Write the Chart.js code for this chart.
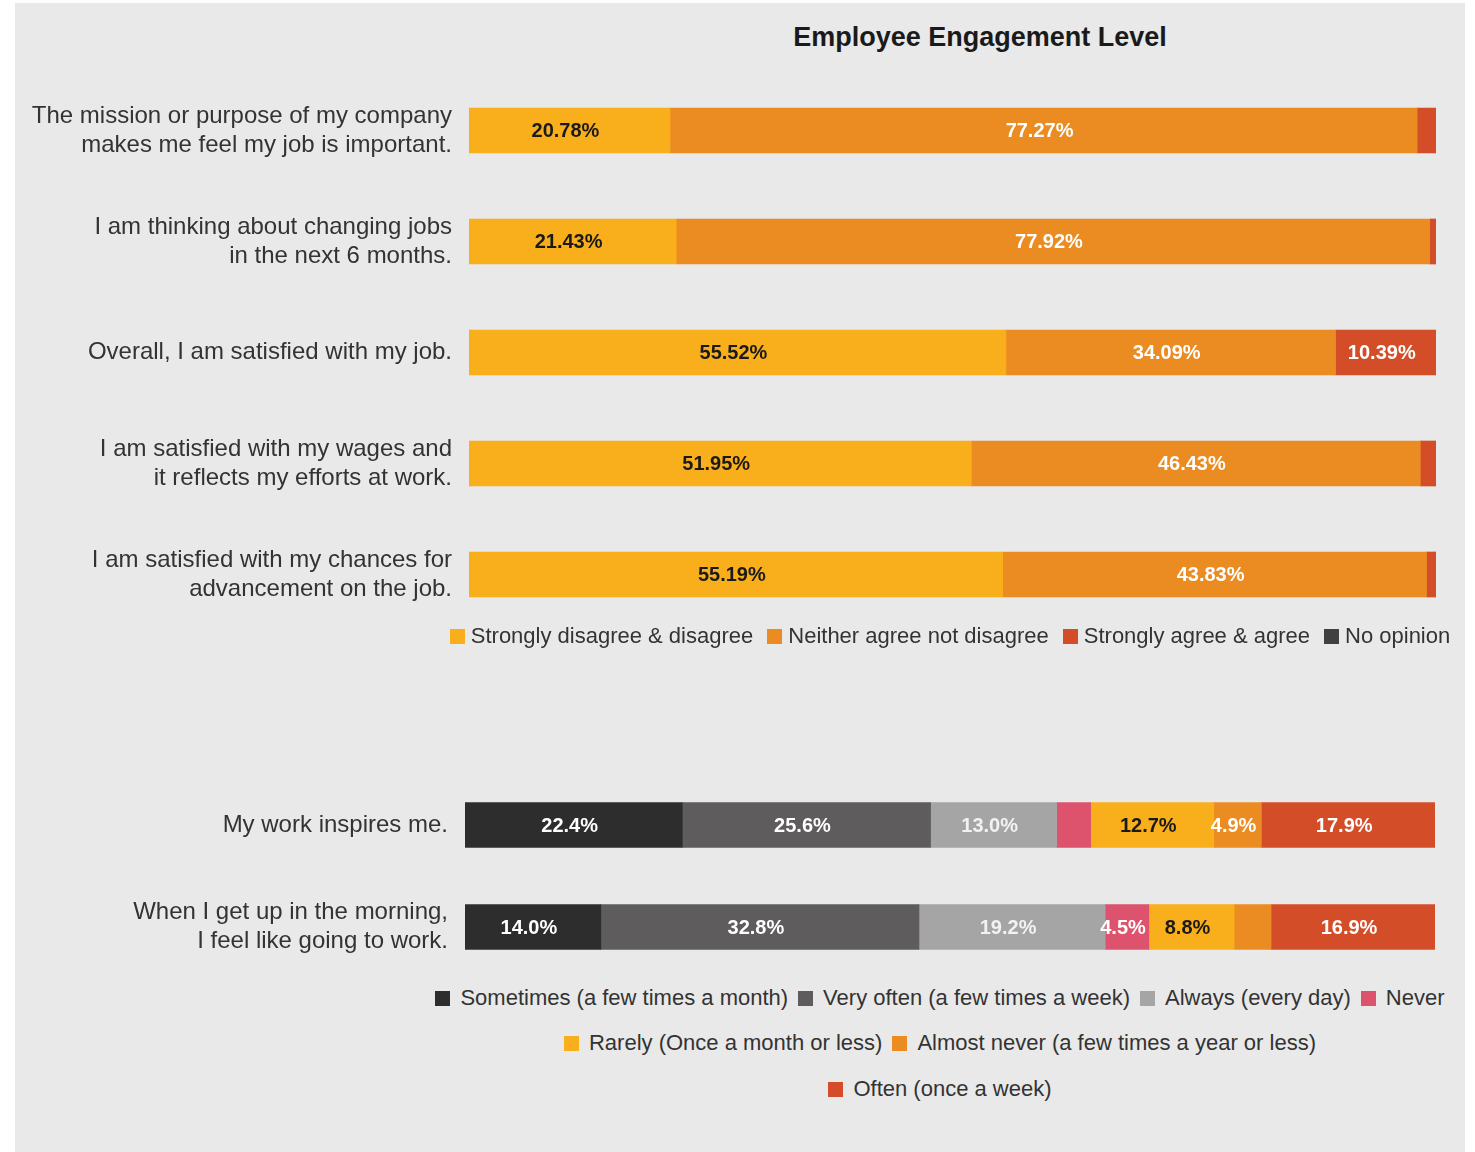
<!DOCTYPE html>
<html><head><meta charset="utf-8">
<script src="https://cdn.jsdelivr.net/npm/chart.js@4.4.1/dist/chart.umd.min.js"></script>
<style>
html,body{margin:0;padding:0;background:#fff;width:1475px;height:1152px;overflow:hidden;font-family:"Liberation Sans",Arial,sans-serif;}
#panel{position:absolute;left:15px;top:3px;width:1450px;height:1149px;background:#e9e9e9;}
#title{position:absolute;left:680px;width:600px;top:21px;text-align:center;font-weight:bold;font-size:27px;line-height:32px;color:#1a1a1a;}
.chartbox{position:absolute;left:15px;width:1450px;}
#topBox{top:75px;height:555px;}
#botBox{top:774px;height:204px;}
.legend{position:absolute;width:1030px;display:flex;justify-content:center;align-items:center;font-size:22px;line-height:28px;height:28px;color:#333;}
.legend .item{display:flex;align-items:center;white-space:nowrap}
.legend .box{width:15px;height:15px;flex:none}
#topLegend .legend{left:435px;}
#topLegend .item{margin:0 7px;}
#topLegend .box{margin-right:6px;}
#botLegend .legend{left:425px;}
#botLegend .item{margin:0 5px;}
#botLegend .box{margin-right:10px;}
</style></head>
<body>
<div id="panel"></div>
<div id="title">Employee Engagement Level</div>
<div class="chartbox" id="topBox"><canvas id="topChart"></canvas></div>
<div class="chartbox" id="botBox"><canvas id="botChart"></canvas></div>
<div id="topLegend"></div>
<div id="botLegend"></div>
<script>
// ---- Top chart data ----
const topCategories = [
  ["The mission or purpose of my company","makes me feel my job is important."],
  ["I am thinking about changing jobs","in the next 6 months."],
  "Overall, I am satisfied with my job.",
  ["I am satisfied with my wages and","it reflects my efforts at work."],
  ["I am satisfied with my chances for","advancement on the job."]
];
const topSeriesNames = ["Strongly disagree & disagree","Neither agree not disagree","Strongly agree & agree","No opinion"];
const stronglyDisagree = [20.78, 21.43, 55.52, 51.95, 55.19];
const neitherAgree     = [77.27, 77.92, 34.09, 46.43, 43.83];
const stronglyAgree    = [1.95, 0.65, 10.39, 1.62, 0.98];
const noOpinion        = [0, 0, 0, 0, 0];

// ---- Bottom chart data ----
const botCategories = ["My work inspires me.", ["When I get up in the morning,","I feel like going to work."]];
const botSeriesNames = ["Sometimes (a few times a month)","Very often (a few times a week)","Always (every day)","Never","Rarely (Once a month or less)","Almost never (a few times a year or less)","Often (once a week)"];
const sometimes   = [22.4, 14.0];
const veryOften   = [25.6, 32.8];
const always      = [13.0, 19.2];
const never       = [3.5, 4.5];
const rarely      = [12.7, 8.8];
const almostNever = [4.9, 3.8];
const often       = [17.9, 16.9];

// ---- Styles ----
const topColors = ["#F9AE1B","#EA8C22","#D34E28","#404040"];
const topLabelColors = ["#1a1a1a","#ffffff","#ffffff","#ffffff"];
const botColors = ["#2D2D2D","#5E5C5D","#A5A5A5","#DD526C","#F9AE1B","#EA8C22","#D34E28"];
const botLabelColors = ["#ffffff","#ffffff","#f2f2f2","#ffffff","#1a1a1a","#ffffff","#ffffff"];

const FONT = '"Liberation Sans", Arial, sans-serif';

const barLabelPlugin = {
  id: 'barLabels',
  afterDatasetsDraw(chart, args, opts) {
    const ctx = chart.ctx;
    chart.data.datasets.forEach((ds, i) => {
      const meta = chart.getDatasetMeta(i);
      if (meta.hidden) return;
      meta.data.forEach((bar, j) => {
        const v = ds.data[j];
        if (!(v >= opts.minValue)) return;
        const p = bar.getProps(['x','base','y'], true);
        ctx.save();
        ctx.font = 'bold 20px ' + FONT;
        ctx.fillStyle = ds.labelColor;
        ctx.textAlign = 'center';
        ctx.textBaseline = 'middle';
        ctx.fillText(v.toFixed(opts.decimals) + '%', (p.x + p.base) / 2 - 4, p.y + 1);
        ctx.restore();
      });
    });
  }
};

function makeOptions(axisWidth, padRight, decimals) {
  return {
    indexAxis: 'y',
    responsive: true,
    maintainAspectRatio: false,
    animation: false,
    layout: { padding: { left: 0, right: padRight, top: 0, bottom: 0 } },
    plugins: {
      legend: { display: false },
      tooltip: { enabled: false },
      barLabels: { minValue: 4.5, decimals: decimals }
    },
    scales: {
      x: { stacked: true, min: 0, max: 100, display: false },
      y: {
        stacked: true,
        grid: { display: false, drawTicks: false },
        border: { display: false },
        ticks: { color: '#333333', padding: 17, font: { size: 24, family: FONT, lineHeight: 1.2 } },
        afterFit(scale) { scale.width = axisWidth; scale.paddingTop = 0; scale.paddingBottom = 0; }
      }
    }
  };
}

function mkDatasets(names, arrays, colors, labelColors) {
  return names.map((n, i) => ({
    label: n, data: arrays[i], backgroundColor: colors[i], labelColor: labelColors[i],
    barThickness: 45, borderWidth: 0
  }));
}

const topChart = new Chart(document.getElementById('topChart'), {
  type: 'bar',
  data: {
    labels: topCategories,
    datasets: mkDatasets(topSeriesNames, [stronglyDisagree, neitherAgree, stronglyAgree, noOpinion], topColors, topLabelColors)
  },
  options: makeOptions(454, 29, 2),
  plugins: [barLabelPlugin]
});

const botChart = new Chart(document.getElementById('botChart'), {
  type: 'bar',
  data: {
    labels: botCategories,
    datasets: mkDatasets(botSeriesNames, [sometimes, veryOften, always, never, rarely, almostNever, often], botColors, botLabelColors)
  },
  options: makeOptions(450, 30, 1),
  plugins: [barLabelPlugin]
});

function buildLegend(chart, container, rows, tops) {
  const items = Chart.defaults.plugins.legend.labels.generateLabels(chart);
  rows.forEach((row, r) => {
    const line = document.createElement('div');
    line.className = 'legend';
    line.style.top = tops[r] + 'px';
    row.forEach(idx => {
      const it = items[idx];
      const d = document.createElement('div');
      d.className = 'item';
      const b = document.createElement('span');
      b.className = 'box';
      b.style.background = it.fillStyle;
      const t = document.createElement('span');
      t.textContent = it.text;
      d.appendChild(b); d.appendChild(t);
      line.appendChild(d);
    });
    container.appendChild(line);
  });
}
buildLegend(topChart, document.getElementById('topLegend'), [[0,1,2,3]], [622]);
buildLegend(botChart, document.getElementById('botLegend'), [[0,1,2,3],[4,5],[6]], [984, 1029, 1075]);
</script>
</body></html>
